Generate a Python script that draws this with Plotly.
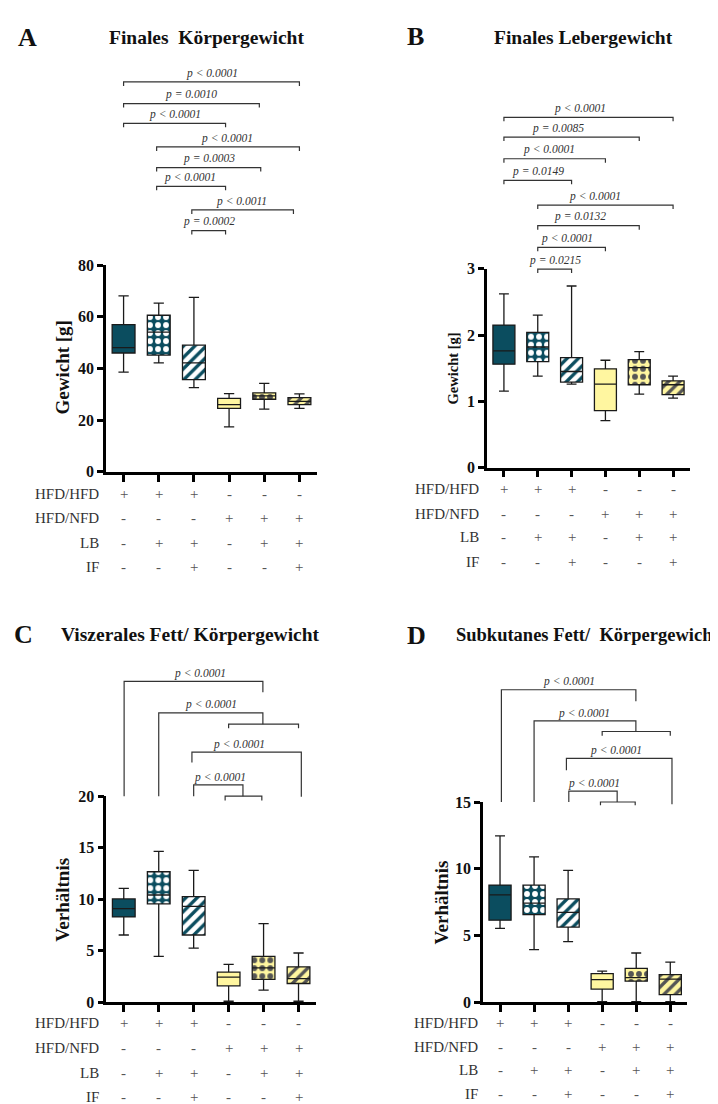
import plotly.graph_objects as go

W, H = 718, 1104
SERIF = "Liberation Serif, Times New Roman, serif"

# ---------------- data ----------------
groups = [0, 1, 2, 3, 4, 5]
row_names = ["HFD/HFD", "HFD/NFD", "LB", "IF"]
row_signs = [
    ["+", "+", "+", "-", "-", "-"],
    ["-", "-", "-", "+", "+", "+"],
    ["-", "+", "+", "-", "+", "+"],
    ["-", "-", "+", "-", "-", "+"],
]
panel_letters = ["A", "B", "C", "D"]
panel_titles = ["Finales  Körpergewicht", "Finales Lebergewicht",
                "Viszerales Fett/ Körpergewicht", "Subkutanes Fett/  Körpergewicht"]
y_titles = ["Gewicht [g]", "Gewicht [g]", "Verhältnis", "Verhältnis"]
y_ticks = [[0, 20, 40, 60, 80], [0, 1, 2, 3], [0, 5, 10, 15, 20], [0, 5, 10, 15]]

# A: Finales Körpergewicht [g]
a_low = [38.6, 42.2, 32.6, 17.4, 24.3, 24.6]
a_q1 = [46.0, 45.2, 35.7, 24.6, 28.1, 26.0]
a_med = [48.1, 54.1, 42.2, 26.0, 29.4, 27.3]
a_q3 = [57.0, 60.6, 49.0, 28.4, 30.6, 28.7]
a_high = [68.1, 65.3, 67.5, 30.3, 34.2, 30.2]
a_p = ["p < 0.0001", "p = 0.0010", "p < 0.0001", "p < 0.0001",
       "p = 0.0003", "p < 0.0001", "p < 0.0011", "p = 0.0002"]

# B: Finales Lebergewicht [g]
b_low = [1.155, 1.38, 1.26, 0.71, 1.11, 1.05]
b_q1 = [1.56, 1.60, 1.29, 0.86, 1.25, 1.10]
b_med = [1.76, 1.82, 1.45, 1.26, 1.51, 1.25]
b_q3 = [2.15, 2.04, 1.66, 1.49, 1.63, 1.31]
b_high = [2.62, 2.30, 2.74, 1.62, 1.75, 1.38]
b_p = ["p < 0.0001", "p = 0.0085", "p < 0.0001", "p = 0.0149",
       "p < 0.0001", "p = 0.0132", "p < 0.0001", "p = 0.0215"]

# C: Viszerales Fett / Körpergewicht
c_low = [6.53, 4.46, 5.25, 0.1, 1.18, 0.1]
c_q1 = [8.28, 9.55, 6.53, 1.60, 2.23, 1.82]
c_med = [9.08, 10.41, 9.30, 2.45, 3.34, 2.29]
c_q3 = [10.03, 12.67, 10.26, 2.93, 4.46, 3.44]
c_high = [11.05, 14.65, 12.80, 3.67, 7.64, 4.78]
c_p = ["p < 0.0001", "p < 0.0001", "p < 0.0001", "p < 0.0001"]

# D: Subkutanes Fett / Körpergewicht
d_low = [5.53, 3.94, 4.55, 0.05, 0.05, 0.05]
d_q1 = [6.15, 6.56, 5.63, 0.99, 1.58, 0.57]
d_med = [8.04, 7.43, 6.74, 1.70, 1.84, 1.73]
d_q3 = [8.78, 8.78, 7.74, 2.14, 2.54, 2.07]
d_high = [12.46, 10.89, 9.88, 2.34, 3.69, 3.00]
d_p = ["p < 0.0001", "p < 0.0001", "p < 0.0001", "p < 0.0001"]

stats = [
    (a_low, a_q1, a_med, a_q3, a_high),
    (b_low, b_q1, b_med, b_q3, b_high),
    (c_low, c_q1, c_med, c_q3, c_high),
    (d_low, d_q1, d_med, d_q3, d_high),
]
pvals = [a_p, b_p, c_p, d_p]

# ---------------- styles ----------------
TEAL = "#0b4d5f"
YEL = "#fff6a0"
DOT = "#555555"
box_bg = [TEAL, TEAL, "#ffffff", YEL, YEL, YEL]
box_fg = [TEAL, "#ffffff", TEAL, YEL, DOT, DOT]
box_shape = ["", ".", "/", "", ".", "/"]

# pixel geometry of each panel; title = (x, y, size, anchor)
geo = [
    dict(ax="", x0=98, x1=309, ytop=253, ybot=463,
         letter=(19, 22), title=(199, 22, 19.5, "center"), ytitle=(55, 357, 19),
         rows=[485, 510, 535, 559.3], rowx=93),
    dict(ax="2", x0=479, x1=682, ytop=256.7, ybot=458.7,
         letter=(407, 21), title=(575, 22, 19.5, "center"), ytitle=(445, 358, 14.5),
         rows=[480.7, 506, 529.3, 554.3], rowx=473.3),
    dict(ax="3", x0=98.3, x1=308, ytop=792.4, ybot=1001.7,
         letter=(15, 628), title=(182, 628, 19.5, "center"), ytitle=(55, 897.5, 19),
         rows=[1022.7, 1048.3, 1073.3, 1097.7], rowx=93.3),
    dict(ax="4", x0=475, x1=679.3, ytop=798.3, ybot=1001.7,
         letter=(409, 629), title=(713, 629, 18.5, "right"), ytitle=(433.3, 900, 19),
         rows=[1022.7, 1046.7, 1070.7, 1095], rowx=471.7),
]

# significance bracket geometry (x in group units, y in pixels)
def simple(x1, x2, y, lx):
    return dict(x1=x1, x2=x2, y=y, yl=y + 4, yr=y + 4, sub=None, lx=lx)

brackets = [
    [simple(0, 5, 67, 2.5), simple(0, 3.86, 89, 1.93), simple(0, 2.9, 109, 1.45),
     simple(0.94, 5, 133, 2.95), simple(0.94, 3.9, 154, 2.42), simple(0.94, 2.9, 173, 1.9),
     simple(1.94, 4.83, 197, 3.36), simple(1.94, 2.9, 218, 2.42)],
    [simple(0, 5, 103, 2.24), simple(0, 4, 123, 1.59), simple(0, 3, 145, 1.32),
     simple(0, 2, 167, 1.0), simple(1, 5, 192, 2.7), simple(1, 4, 213, 2.24),
     simple(1, 3, 235, 1.87), simple(1, 2, 257, 1.5)],
    [dict(x1=0.01, x2=3.98, y=675.7, yl=792.4, yr=686.7, sub=None, lx=2.17),
     dict(x1=1.0, x2=3.98, y=707.7, yl=792.4, yr=719.3, sub=(3.0, 5.0, 719.3, 723.5), lx=2.5),
     dict(x1=1.95, x2=5.08, y=747.7, yl=758.3, yr=793, sub=None, lx=3.29),
     dict(x1=2.0, x2=3.41, y=781, yl=792.4, yr=792.4, sub=(2.9, 3.95, 792.4, 796.7), lx=2.74)],
    [dict(x1=0.04, x2=3.99, y=684.3, yl=798.3, yr=696, sub=None, lx=2.02),
     dict(x1=1.0, x2=3.99, y=716, yl=798.3, yr=726.7, sub=(3.0, 5.0, 726.7, 731), lx=2.46),
     dict(x1=1.95, x2=5.05, y=754, yl=766, yr=800.7, sub=None, lx=3.42),
     dict(x1=2.02, x2=3.44, y=787.3, yl=798.3, yr=798.3, sub=(2.95, 3.97, 798.3, 801.7), lx=2.75)],
]


def py(y):
    return 1 - y / H


def px(x):
    return x / W


fig = go.Figure()
layout = dict(width=W, height=H, margin=dict(l=0, r=0, t=0, b=0),
              paper_bgcolor="white", plot_bgcolor="white", showlegend=False,
              barmode="overlay")
annotations = []
shapes = []

for i, g in enumerate(geo):
    low, q1, med, q3, high = stats[i]
    ax = g["ax"]
    xa, ya = "x" + ax, "y" + ax
    # patterned box bodies (one bar per group so each keeps its own pattern colours)
    for k in groups:
        fig.add_trace(go.Bar(
            x=[k], y=[q3[k] - q1[k]], base=[q1[k]], width=0.65,
            xaxis=xa, yaxis=ya, hoverinfo="skip",
            marker=dict(color=box_bg[k], line=dict(width=0),
                        pattern=dict(shape=box_shape[k], fgcolor=box_fg[k], bgcolor=box_bg[k],
                                     size=8, solidity=0.42, fillmode="replace")),
        ))
    fig.add_trace(go.Box(
        x=groups, q1=q1, median=med, q3=q3, lowerfence=low, upperfence=high,
        width=0.65, whiskerwidth=0.45, boxpoints=False,
        fillcolor="rgba(0,0,0,0)", line=dict(color="#1a1a1a", width=1.3),
        xaxis=xa, yaxis=ya,
    ))
    ymax = y_ticks[i][-1]
    layout["xaxis" + ax] = dict(
        domain=[px(g["x0"]), px(g["x1"])], range=[-0.5, 5.5], anchor=ya,
        showline=True, linecolor="black", linewidth=2.5, ticks="outside",
        ticklen=7, tickwidth=2.5, tickcolor="black", tickvals=groups,
        showticklabels=False, showgrid=False, zeroline=False, fixedrange=True)
    layout["yaxis" + ax] = dict(
        domain=[py(g["ybot"]), py(g["ytop"])], range=[0, ymax], anchor=xa,
        showline=True, linecolor="black", linewidth=2.5, ticks="outside",
        ticklen=6, tickwidth=2.5, tickcolor="black", tickvals=y_ticks[i],
        tickfont=dict(family=SERIF, size=16, color="#111", weight="bold"),
        showgrid=False, zeroline=False, fixedrange=True)

    # letter and title
    annotations.append(dict(x=px(g["letter"][0]), y=py(g["letter"][1]), xref="paper", yref="paper",
                            text=panel_letters[i], showarrow=False, xanchor="center", yanchor="middle",
                            font=dict(family=SERIF, size=26, color="#111", weight="bold")))
    tx0, ty0, tsz, tanc = g["title"]
    annotations.append(dict(x=px(tx0), y=py(ty0), xref="paper", yref="paper",
                            text=panel_titles[i].replace("  ", "&nbsp; "), showarrow=False,
                            xanchor=tanc, yanchor="middle",
                            font=dict(family=SERIF, size=tsz, color="#111", weight="bold")))
    tx, ty, ts = g["ytitle"]
    annotations.append(dict(x=px(tx), y=py(ty), xref="paper", yref="paper", text=y_titles[i],
                            showarrow=False, textangle=-90, xanchor="center", yanchor="middle",
                            font=dict(family=SERIF, size=ts, color="#111", weight="bold")))

    # condition table
    for r, name in enumerate(row_names):
        yy = py(g["rows"][r])
        annotations.append(dict(x=px(g["rowx"]), y=yy, xref="paper", yref="paper", text=name,
                                showarrow=False, xanchor="right", yanchor="middle",
                                font=dict(family=SERIF, size=15, color="#333")))
        for k in groups:
            annotations.append(dict(x=k, y=yy, xref=xa, yref="paper", text=row_signs[r][k],
                                    showarrow=False, xanchor="center", yanchor="middle",
                                    font=dict(family=SERIF, size=15, color="#555")))

    # significance brackets
    for b, txt in zip(brackets[i], pvals[i]):
        path = "M {x1},{yl} L {x1},{y} L {x2},{y} L {x2},{yr}".format(
            x1=b["x1"], x2=b["x2"], y=py(b["y"]), yl=py(b["yl"]), yr=py(b["yr"]))
        shapes.append(dict(type="path", path=path, xref=xa, yref="paper",
                           line=dict(color="#333", width=1.2)))
        if b["sub"] is not None:
            s1, s2, sy, se = b["sub"]
            spath = "M {a},{e} L {a},{y} L {b},{y} L {b},{e}".format(
                a=s1, b=s2, y=py(sy), e=py(se))
            shapes.append(dict(type="path", path=spath, xref=xa, yref="paper",
                               line=dict(color="#333", width=1.2)))
        off = 9 if i < 2 else 8
        annotations.append(dict(x=b["lx"], y=py(b["y"] - off), xref=xa, yref="paper",
                                text="<i>" + txt + "</i>", showarrow=False,
                                xanchor="center", yanchor="middle",
                                font=dict(family=SERIF, size=11.5, color="#333")))

layout["annotations"] = annotations
layout["shapes"] = shapes
fig.update_layout(**layout)
fig.write_html("out.html")
